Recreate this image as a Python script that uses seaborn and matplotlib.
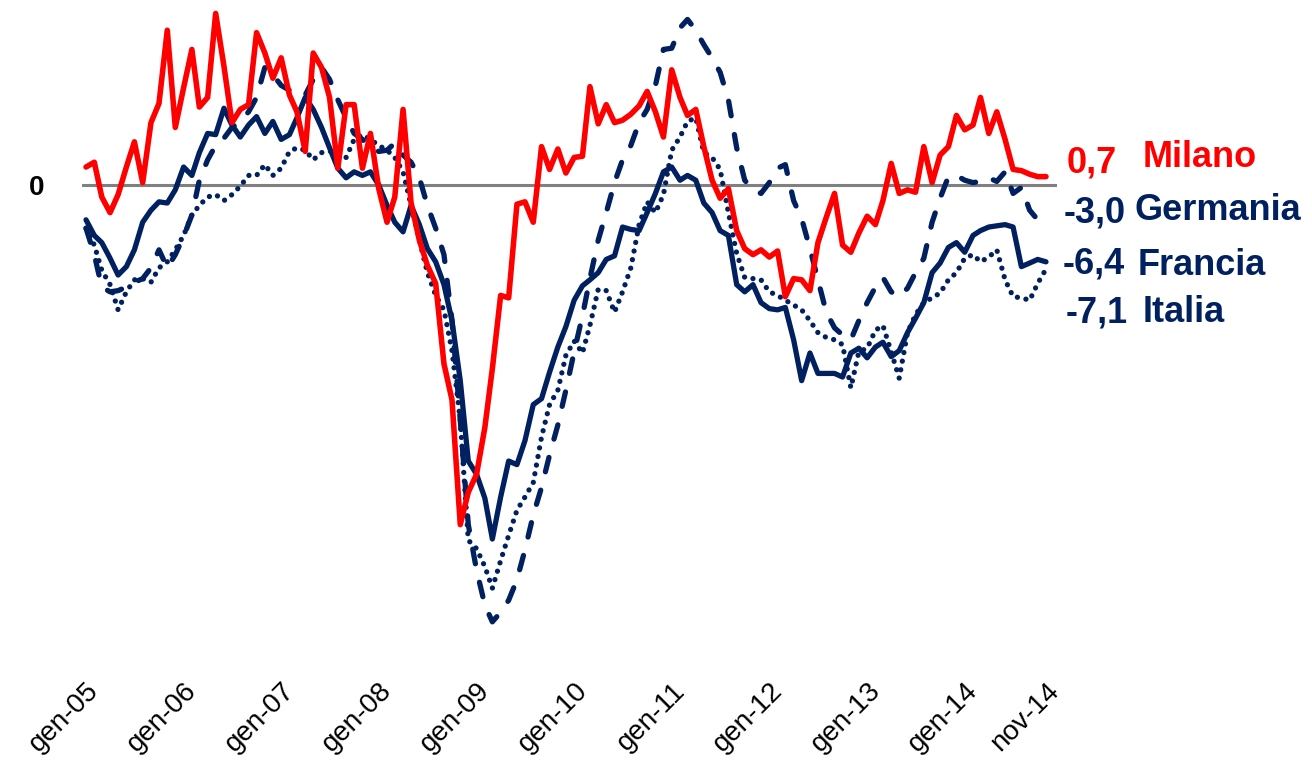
import pandas as pd
import seaborn as sns
import matplotlib.pyplot as plt

# mesi da gennaio 2005 a novembre 2014
mesi = pd.date_range("2005-01-01", "2014-11-01", freq="MS")

milano = [1.5, 1.9, -1.0, -2.3, -0.8, 1.5, 3.6, 0.2, 5.2, 6.8, 12.9, 4.8,
          8.1, 11.3, 6.5, 7.3, 14.3, 9.9, 5.2, 6.3, 6.7, 12.7, 11.0, 8.9,
          10.6, 7.5, 6.1, 2.8, 11.0, 9.8, 7.3, 1.4, 6.7, 6.7, 1.4, 4.3,
          -0.3, -3.1, -1.0, 6.3, -1.5, -4.6, -6.7, -8.2, -14.9, -17.9, -28.3, -25.6,
          -24.1, -20.2, -15.3, -9.2, -9.4, -1.6, -1.4, -3.1, 3.2, 1.3, 3.0, 1.0,
          2.3, 2.4, 8.2, 5.1, 6.7, 5.2, 5.4, 5.9, 6.6, 7.8, 6.1, 4.0,
          9.6, 7.3, 5.8, 6.3, 3.2, 0.4, -1.1, -0.3, -3.8, -5.3, -5.8, -5.4,
          -6.0, -5.5, -9.3, -7.8, -7.9, -8.8, -4.8, -2.7, -0.7, -5.0, -5.6, -4.0,
          -2.6, -3.3, -1.3, 1.8, -0.7, -0.4, -0.6, 3.2, 0.2, 2.5, 3.2, 5.8,
          4.6, 5.0, 7.3, 4.3, 6.1, 3.8, 1.3, 1.2, 0.9, 0.7, 0.7]

germania = [-3.6, -5.8, -8.5, -8.9, -8.8, -8.5, -8.1, -7.8, -6.9, -5.4, -6.9, -5.8,
            -4.3, -2.5, 0.4, 2.1, 3.3, 3.9, 4.8, 5.3, 6.1, 7.3, 9.8, 9.2,
            8.3, 7.9, 7.5, 7.5, 8.8, 9.8, 8.8, 7.1, 5.6, 4.3, 3.8, 3.1,
            2.8, 2.9, 3.5, 2.5, 1.9, 0.6, -1.7, -3.6, -5.8, -11.3, -19.6, -28.3,
            -32.1, -35.0, -36.4, -35.6, -34.6, -32.9, -30.4, -27.5, -25.2, -22.5, -20.0, -17.1,
            -13.9, -10.9, -7.8, -4.6, -2.3, 0.2, 2.1, 3.3, 5.2, 6.3, 8.3, 11.3,
            11.4, 13.1, 13.8, 12.9, 11.7, 10.6, 9.4, 7.1, 3.1, 0.4, -0.4, -0.7,
            0.2, 1.4, 1.7, -1.3, -2.8, -5.3, -7.9, -10.6, -11.9, -12.5, -12.9, -11.3,
            -9.8, -8.5, -7.7, -8.9, -9.3, -8.6, -7.3, -6.1, -3.1, -1.1, 0.7, 0.8,
            0.4, 0.2, 0.3, 0.6, 0.3, 1.1, -0.7, -0.2, -2.1, -2.9, -3.4]

francia = [-2.9, -4.2, -4.8, -6.1, -7.5, -6.8, -5.4, -3.1, -2.1, -1.4, -1.5, -0.4,
           1.5, 0.8, 2.7, 4.3, 4.2, 6.4, 5.0, 4.0, 5.0, 5.7, 4.3, 5.3,
           3.8, 4.2, 5.6, 7.3, 6.3, 4.8, 3.1, 1.4, 0.6, 1.1, 0.8, 1.1,
           0.0, -1.7, -3.1, -3.9, -1.7, -3.3, -5.3, -6.4, -8.3, -11.3, -16.3, -23.0,
           -24.1, -26.1, -29.5, -26.0, -23.0, -23.3, -21.3, -18.3, -17.8, -15.6, -13.5, -11.8,
           -9.6, -8.4, -7.9, -7.3, -6.2, -5.9, -3.5, -3.7, -3.8, -2.3, -0.7, 1.1,
           1.5, 0.4, 0.8, 0.4, -1.5, -2.3, -3.8, -4.2, -8.3, -8.9, -8.3, -9.8,
           -10.3, -10.4, -10.2, -12.9, -16.3, -14.0, -15.7, -15.7, -15.7, -16.0, -14.0, -13.6,
           -14.4, -13.5, -13.1, -14.3, -13.8, -12.3, -11.1, -9.8, -7.3, -6.5, -5.2, -4.8,
           -5.6, -4.2, -3.8, -3.5, -3.4, -3.3, -3.5, -6.8, -6.5, -6.2, -6.4]

italia = [-3.6, -5.0, -7.1, -8.3, -10.4, -8.9, -7.9, -7.8, -8.1, -6.9, -6.4, -5.4,
          -4.2, -2.5, -1.7, -1.0, -0.8, -1.3, -0.8, -0.1, 0.8, 0.8, 1.7, 0.8,
          1.4, 2.8, 3.1, 2.9, 2.1, 2.7, 2.8, 2.8, 2.3, 3.8, 4.2, 3.8,
          3.3, 2.9, 2.3, 1.1, -1.7, -4.6, -7.3, -9.2, -10.4, -13.8, -19.6, -29.6,
          -30.3, -31.8, -33.6, -31.3, -29.2, -27.1, -26.0, -24.8, -21.0, -18.3, -17.1, -14.2,
          -13.0, -14.0, -11.7, -8.7, -8.8, -10.6, -8.9, -6.9, -3.3, -1.4, -2.3, -0.8,
          2.9, 4.0, 5.3, 5.6, 2.7, 2.3, 1.3, -2.3, -5.7, -7.7, -7.8, -7.9,
          -8.9, -9.2, -9.6, -10.0, -10.4, -11.3, -12.3, -12.7, -12.9, -13.3, -16.9, -13.9,
          -13.6, -12.1, -11.7, -13.9, -16.1, -12.3, -10.8, -9.8, -9.4, -9.0, -7.9, -7.3,
          -6.1, -5.8, -6.4, -6.0, -5.4, -7.9, -9.3, -9.4, -9.6, -8.2, -7.0]

etichette_x = ["gen-05", "gen-06", "gen-07", "gen-08", "gen-09", "gen-10",
               "gen-11", "gen-12", "gen-13", "gen-14", "nov-14"]

nomi = ["Milano", "Germania", "Francia", "Italia"]
ultimi = ["0,7", "-3,0", "-6,4", "-7,1"]

ROSSO = "#FF0000"
BLU = "#002060"

df = pd.DataFrame({"mese": mesi, "Milano": milano, "Germania": germania,
                   "Francia": francia, "Italia": italia})

sns.set_style("white")
plt.rcParams["font.family"] = ["Liberation Sans", "DejaVu Sans"]
plt.rcParams["text.color"] = "black"
plt.rcParams["xtick.color"] = "black"
plt.rcParams["ytick.color"] = "black"

fig = plt.figure(figsize=(13.12, 7.69), dpi=100)
ax = fig.add_axes([0.0625, 0.1352, 0.7431, 0.8645])

ax.axhline(0, color="#808080", lw=2.2, zorder=1)

sns.lineplot(data=df, x="mese", y="Italia", ax=ax, color=BLU, lw=3.8,
             linestyle=(0, (0.01, 1.65)), dash_capstyle="round", zorder=2)
sns.lineplot(data=df, x="mese", y="Germania", ax=ax, color=BLU, lw=3.8,
             linestyle=(0, (2.8, 3.6)), dash_capstyle="round", zorder=3)
sns.lineplot(data=df, x="mese", y="Francia", ax=ax, color=BLU, lw=3.8, zorder=4)
sns.lineplot(data=df, x="mese", y="Milano", ax=ax, color=ROSSO, lw=4.0, zorder=5)

ax.set_xlim(mesi[0] - pd.Timedelta(days=15), mesi[-1] + pd.Timedelta(days=41))
ax.set_ylim(-40, 15.4)
ax.set_xlabel("")
ax.set_ylabel("")

tick_pos = list(mesi[::12]) + [mesi[-1]]
ax.set_xticks(tick_pos)
ax.set_xticklabels(etichette_x, rotation=45, ha="right", va="top",
                   rotation_mode="anchor", fontsize=20)
ax.tick_params(axis="x", length=0, pad=9)
ax.set_yticks([0])
ax.set_yticklabels(["0"], fontsize=20, fontweight="bold")
ax.tick_params(axis="y", length=0, pad=27)
for s in ax.spines.values():
    s.set_visible(False)

# etichette a destra: ultimo valore e nome
W, H = 1312, 769
pos_val = [(1067, 172), (1064, 223), (1063, 273), (1066, 322)]
pos_nome = [(1143, 167), (1134, 220), (1138, 275), (1143, 322)]
colori = [ROSSO, BLU, BLU, BLU]
for nome, val, pv, pn, c in zip(nomi, ultimi, pos_val, pos_nome, colori):
    fig.text(pv[0] / W, 1 - pv[1] / H, val, color=c, fontsize=26,
             fontweight="bold", va="baseline", ha="left")
    fig.text(pn[0] / W, 1 - pn[1] / H, nome, color=c, fontsize=26,
             fontweight="bold", va="baseline", ha="left")

fig.savefig("out.png", dpi=100)
